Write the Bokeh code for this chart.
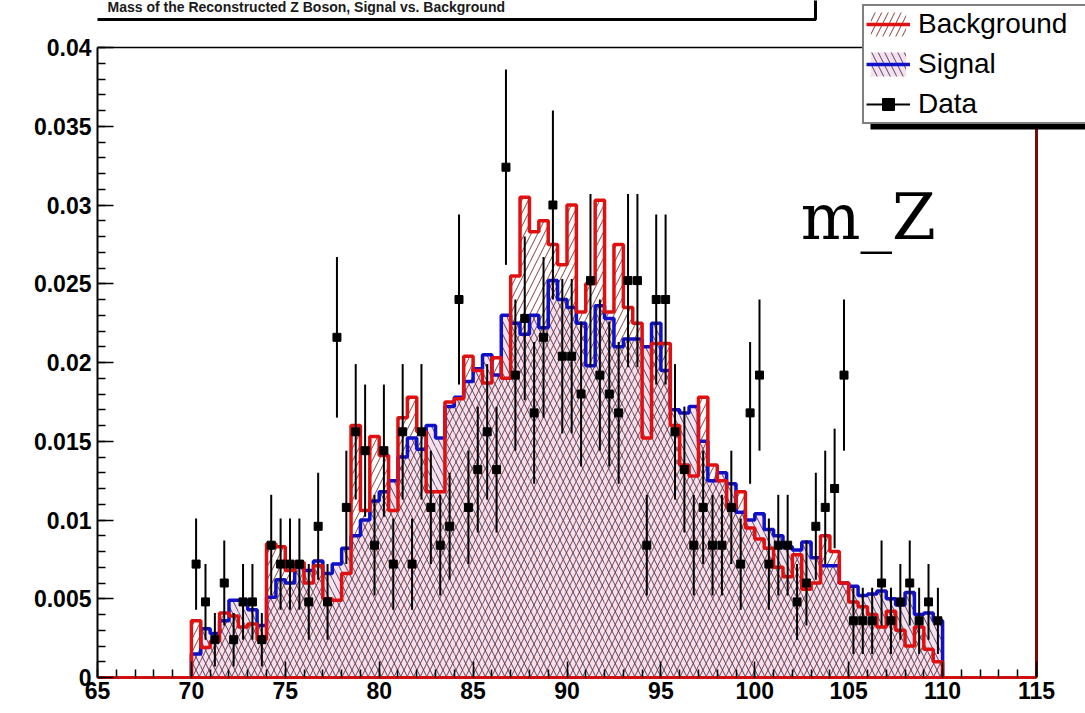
import numpy as np
from bokeh.plotting import figure
from bokeh.models import FixedTicker, Label, Legend, LegendItem, BoxAnnotation, Range1d
from bokeh.embed import file_html
from bokeh.resources import INLINE

# ---------------- data ----------------
bin_start = 70.0
bin_width = 0.5

background = [
    0.0036, 0.0019, 0.0023, 0.0041, 0.0039, 0.0032, 0.0034, 0.0024, 0.0085, 0.0083,
    0.0068, 0.0073, 0.0060, 0.0071, 0.0050, 0.0049, 0.0066, 0.0160, 0.0106, 0.0153,
    0.0141, 0.0106, 0.0165, 0.0178, 0.0156, 0.0118, 0.0118, 0.0175, 0.0177, 0.0204,
    0.0195, 0.0187, 0.0203, 0.0190, 0.0255, 0.0305, 0.0283, 0.0290, 0.0275, 0.0262,
    0.0300, 0.0232, 0.0250, 0.0303, 0.0232, 0.0275, 0.0235, 0.0225, 0.0152, 0.0212,
    0.0212, 0.0160, 0.0135, 0.0128, 0.0178, 0.0135, 0.0125, 0.0108, 0.0118, 0.0095,
    0.0088, 0.0082, 0.0070, 0.0064, 0.0078, 0.0056, 0.0060, 0.0090, 0.0080, 0.0060,
    0.0048, 0.0045, 0.0040, 0.0032, 0.0042, 0.0030, 0.0020, 0.0032, 0.0018, 0.0010,
]

signal = [
    0.0015, 0.0031, 0.0028, 0.0036, 0.0049, 0.0049, 0.0043, 0.0033, 0.0051, 0.0062,
    0.0060, 0.0070, 0.0068, 0.0074, 0.0066, 0.0072, 0.0082, 0.0090, 0.0100, 0.0112,
    0.0118, 0.0125, 0.0140, 0.0152, 0.0145, 0.0160, 0.0152, 0.0172, 0.0178, 0.0188,
    0.0196, 0.0205, 0.0192, 0.0230, 0.0225, 0.0218, 0.0230, 0.0222, 0.0252, 0.0240,
    0.0235, 0.0225, 0.0198, 0.0236, 0.0228, 0.0210, 0.0215, 0.0215, 0.0210, 0.0225,
    0.0195, 0.0170, 0.0168, 0.0172, 0.0150, 0.0125, 0.0130, 0.0123, 0.0105, 0.0100,
    0.0104, 0.0094, 0.0090, 0.0083, 0.0081, 0.0086, 0.0076, 0.0071, 0.0071, 0.0060,
    0.0058, 0.0052, 0.0053, 0.0055, 0.0050, 0.0046, 0.0054, 0.0040, 0.0041, 0.0036,
]

data_vals = [
    0.0072, 0.0048, 0.0024, 0.0060, 0.0024, 0.0048, 0.0048, 0.0024, 0.0084, 0.0072,
    0.0072, 0.0072, 0.0048, 0.0096, 0.0048, 0.0216, 0.0108, 0.0156, 0.0144, 0.0084,
    0.0144, 0.0072, 0.0156, 0.0072, 0.0156, 0.0108, 0.0084, 0.0096, 0.0240, 0.0108,
    0.0132, 0.0156, 0.0132, 0.0324, 0.0192, 0.0228, 0.0168, 0.0216, 0.0300, 0.0204,
    0.0204, 0.0180, 0.0252, 0.0192, 0.0180, 0.0168, 0.0252, 0.0252, 0.0084, 0.0240,
    0.0240, 0.0156, 0.0132, 0.0084, 0.0108, 0.0084, 0.0084, 0.0108, 0.0072, 0.0168,
    0.0192, 0.0072, 0.0084, 0.0084, 0.0048, 0.0060, 0.0096, 0.0108, 0.0120, 0.0192,
    0.0036, 0.0036, 0.0036, 0.0060, 0.0036, 0.0048, 0.0060, 0.0036, 0.0048, 0.0036,
]

data_errs = [
    0.0029, 0.0024, 0.0017, 0.0027, 0.0017, 0.0024, 0.0024, 0.0017, 0.0032, 0.0029,
    0.0029, 0.0029, 0.0024, 0.0034, 0.0024, 0.0051, 0.0036, 0.0043, 0.0042, 0.0032,
    0.0042, 0.0029, 0.0043, 0.0029, 0.0043, 0.0036, 0.0032, 0.0034, 0.0054, 0.0036,
    0.0040, 0.0043, 0.0040, 0.0062, 0.0048, 0.0052, 0.0045, 0.0051, 0.0060, 0.0049,
    0.0049, 0.0046, 0.0055, 0.0048, 0.0046, 0.0045, 0.0055, 0.0055, 0.0032, 0.0054,
    0.0054, 0.0043, 0.0040, 0.0032, 0.0036, 0.0032, 0.0032, 0.0036, 0.0029, 0.0045,
    0.0048, 0.0029, 0.0032, 0.0032, 0.0024, 0.0027, 0.0034, 0.0036, 0.0038, 0.0048,
    0.0021, 0.0021, 0.0021, 0.0027, 0.0021, 0.0024, 0.0027, 0.0021, 0.0024, 0.0021,
]

x_ticks = [65, 70, 75, 80, 85, 90, 95, 100, 105, 110, 115]
x_tick_labels = ["65", "70", "75", "80", "85", "90", "95", "100", "105", "110", "115"]
y_ticks = [0.0, 0.005, 0.01, 0.015, 0.02, 0.025, 0.03, 0.035, 0.04]
y_tick_labels = ["0", "0.005", "0.01", "0.015", "0.02", "0.025", "0.03", "0.035", "0.04"]

title_text = "Mass of the Reconstructed Z Boson, Signal vs. Background"
series_names = ["Background", "Signal", "Data"]
annotation_text = "m_Z"

# ---------------- derived geometry ----------------
X0, X1 = 65.0, 115.0
Y0, Y1 = 0.0, 0.04
nb = len(background)
edges = bin_start + bin_width * np.arange(nb + 1)
left = edges[:-1]
right = edges[1:]
centers = 0.5 * (left + right)
bg = np.array(background)
sg = np.array(signal)
dv = np.array(data_vals)
de = np.array(data_errs)


def outline(vals):
    xs = np.repeat(edges, 2)
    ys = np.concatenate([[0.0], np.repeat(vals, 2), [0.0]])
    return xs, ys


FONT = "Liberation Sans"
W, H = 1085, 713
BL, BB = 97, 36                 # left / bottom borders (axes live there)
PX_AXIS_W = 939                 # pixels between x=65 and x=115
PX_AXIS_H = 630                 # pixels between y=0 and y=0.04
xs_per_px = (X1 - X0) / PX_AXIS_W
ys_per_px = (Y1 - Y0) / PX_AXIS_H
x_end = X0 + (W - BL) * xs_per_px      # frame extends to the right canvas edge
y_end = Y0 + (H - BB) * ys_per_px      # frame extends to the top canvas edge

p = figure(width=W, height=H, x_range=Range1d(X0, x_end), y_range=Range1d(Y0, y_end),
           output_backend="svg", toolbar_location=None,
           min_border_left=BL, min_border_right=0, min_border_top=0, min_border_bottom=BB)
p.xgrid.visible = False
p.ygrid.visible = False
p.background_fill_color = "white"
p.border_fill_color = "white"
p.outline_line_color = None

# hatched areas
sg_quad = p.quad(left=left, right=right, bottom=0, top=sg, fill_color="#f6e0ec", fill_alpha=1.0,
                 line_color=None, hatch_pattern="left_diagonal_line", hatch_color="#2a2a55",
                 hatch_scale=13, hatch_weight=1, hatch_alpha=0.85)
bg_quad = p.quad(left=left, right=right, bottom=0, top=bg, fill_color=None, line_color=None,
                 hatch_pattern="right_diagonal_line", hatch_color="#7a2a2a",
                 hatch_scale=13, hatch_weight=1, hatch_alpha=0.9)

# outlines
sx, sy = outline(sg)
sg_line = p.line(sx, sy, line_color="#1010c8", line_width=3.5)
bx, by = outline(bg)
bg_line = p.line(bx, by, line_color="#e01010", line_width=3.5)

# data points
err_v = p.segment(x0=centers, y0=dv - de, x1=centers, y1=dv + de, line_color="black", line_width=2)
pts = p.scatter(centers, dv, marker="square", size=8, fill_color="black", line_color="black")

# frame: top edge (black) and right edge (dark red)
p.segment(x0=[X0], y0=[Y1], x1=[X1], y1=[Y1], line_color="black", line_width=1.5)
p.segment(x0=[X1], y0=[Y0], x1=[X1], y1=[Y1], line_color="#7a0a0a", line_width=3)

# axes
p.xaxis.bounds = (X0, X1)
p.yaxis.bounds = (Y0, Y1)
p.xaxis.ticker = FixedTicker(ticks=x_ticks, minor_ticks=list(range(65, 116)))
p.xaxis.major_label_overrides = {t: s for t, s in zip(x_ticks, x_tick_labels)}
p.yaxis.ticker = FixedTicker(ticks=y_ticks, minor_ticks=[i / 1000 for i in range(41)])
p.yaxis.major_label_overrides = {t: s for t, s in zip(y_ticks, y_tick_labels)}
for ax in (p.xaxis[0], p.yaxis[0]):
    ax.major_tick_in = 16
    ax.major_tick_out = 0
    ax.minor_tick_in = 8
    ax.minor_tick_out = 0
    ax.major_tick_line_color = "black"
    ax.minor_tick_line_color = "black"
    ax.major_tick_line_width = 1.5
    ax.minor_tick_line_width = 1.5
    ax.major_label_text_font = FONT
    ax.major_label_text_font_style = "bold"
    ax.major_label_text_font_size = "23px"
    ax.major_label_text_color = "black"
p.xaxis.major_label_standoff = 4
p.yaxis.major_label_standoff = 6
p.xaxis.axis_line_color = "#d01010"
p.xaxis.axis_line_width = 3
p.yaxis.axis_line_color = "black"
p.yaxis.axis_line_width = 2

# title box at the very top
p.add_layout(BoxAnnotation(left=X0 - 2, right=X0 + 718 * xs_per_px,
                           bottom=y_end - 19 * ys_per_px, top=y_end + 20 * ys_per_px,
                           fill_color="white", fill_alpha=1, line_color="black",
                           line_alpha=1, line_width=3))
p.add_layout(Label(x=X0 + 10 * xs_per_px, y=y_end - 6 * ys_per_px, text=title_text,
                   text_font=FONT, text_font_style="bold", text_font_size="14px",
                   text_color="#1a1a1a", text_baseline="alphabetic"))

# m_Z annotation
p.add_layout(Label(x=102.45, y=0.0292, text=annotation_text, text_font="DejaVu Serif",
                   text_font_size="63px", text_color="black", text_baseline="alphabetic"))

# legend shadow
p.add_layout(BoxAnnotation(left=X0 + (870 - BL) * xs_per_px, right=x_end + 1,
                           bottom=Y0 + (677 - 129) * ys_per_px, top=Y0 + (677 - 116) * ys_per_px,
                           fill_color="black", fill_alpha=1, line_color=None))

legend = Legend(items=[
    LegendItem(label=series_names[0], renderers=[bg_quad, bg_line]),
    LegendItem(label=series_names[1], renderers=[sg_quad, sg_line]),
    LegendItem(label=series_names[2], renderers=[err_v, pts]),
], location=(862 - BL, 677 - 124))
legend.border_line_color = "black"
legend.border_line_width = 2
legend.background_fill_color = "white"
legend.background_fill_alpha = 1
legend.label_text_font = FONT
legend.label_text_font_size = "28px"
legend.label_text_color = "black"
legend.glyph_width = 44
legend.glyph_height = 30
legend.label_height = 30
legend.label_width = 185
legend.label_standoff = 8
legend.padding = 2
legend.spacing = 8
legend.margin = 0
p.add_layout(legend, "center")

open("out.html", "w").write(file_html(p, INLINE))
